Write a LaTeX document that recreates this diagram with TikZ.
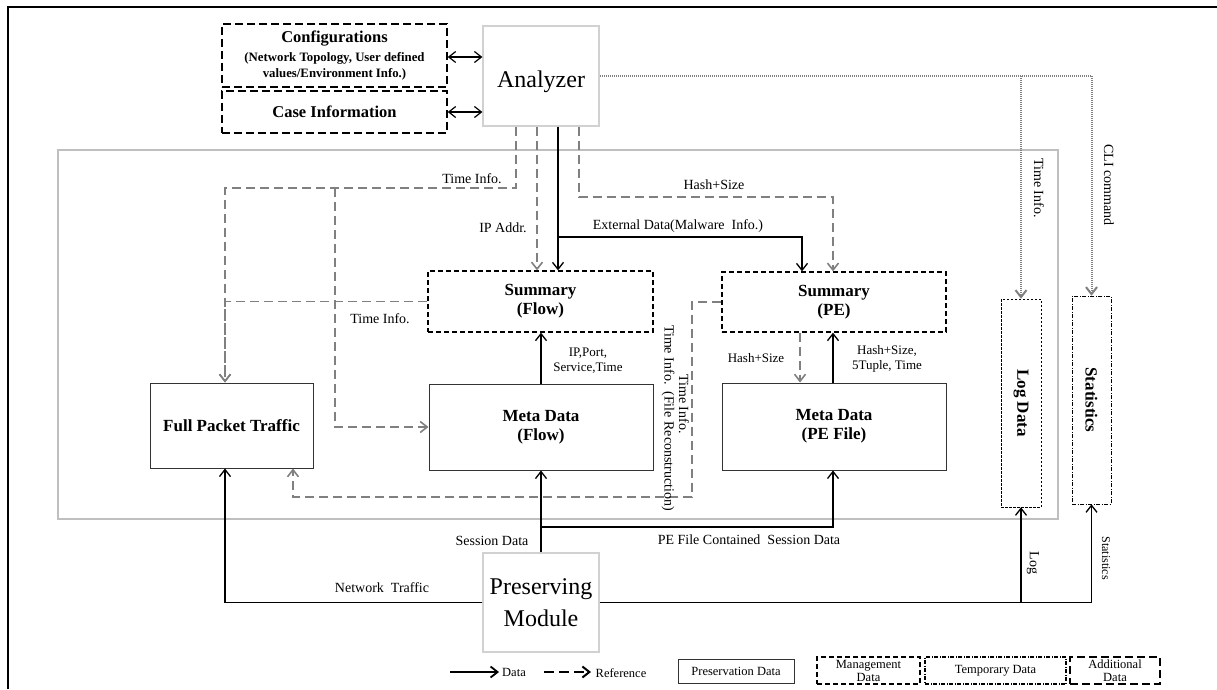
\documentclass[tikz,border=0pt]{standalone}
\usepackage{fontspec}
\setmainfont{Liberation Serif}
\usetikzlibrary{arrows.meta}
\begin{document}
\begin{tikzpicture}[x=1pt,y=-1pt,
  tipv/.style={-{Straight Barb[length=7pt,width=11pt]}},
  bothv/.style={{Straight Barb[length=7pt,width=11pt]}-{Straight Barb[length=7pt,width=11pt]}},
  box/.style={draw=black!80, line width=1pt, inner sep=0pt, align=center,
    font=\fontsize{17}{19}\selectfont\bfseries},
  mgmt/.style={box, draw=black, line width=1.3pt, dash pattern=on 5pt off 3pt},
  addl/.style={box, draw=black, line width=1.5pt, dash pattern=on 8pt off 4pt},
  tmpd/.style={box, draw=black, line width=0.6pt, dash pattern=on 2.5pt off 1.5pt},
  tmpdd/.style={box, draw=black, line width=0.6pt, dash pattern=on 4pt off 1.5pt on 1pt off 1.5pt},
  module/.style={draw=black!18, line width=1.2pt, inner sep=0pt, align=center,
    font=\fontsize{24}{32}\selectfont},
  data/.style={draw=black, line width=1.3pt, tipv},
  ref/.style={draw=black!50, line width=1.6pt, dash pattern=on 9pt off 5pt, tipv},
  ctl/.style={draw=black!50, line width=2pt, dash pattern=on 1.2pt off 0.8pt, tipv},
  lbl/.style={font=\fontsize{14}{15.5}\selectfont, inner sep=1pt, align=center},
  lgd/.style={font=\fontsize{12.5}{13}\selectfont, inner sep=0pt, align=center}
]
\useasboundingbox (0,0) rectangle (1217,689);
% outer frame
\draw[line width=2pt] (8,689) -- (8,7) -- (1217,7);
% container
\node[draw=black!25, line width=1.5pt, minimum width=1000pt, minimum height=369pt, inner sep=0pt] (cont) at (558,334.5) {};
% top nodes
\node[module, minimum width=116pt, minimum height=100pt, text height=24pt, text depth=2pt] (ana) at (541,76) {Analyzer};
\node[addl, minimum width=225pt, minimum height=63pt] (cfg) at (334.5,55.5)
  {{\fontsize{16.5}{18}\selectfont Configurations}\\[0pt]
   {\fontsize{12.8}{14}\selectfont (Network Topology, User defined}\\[-3pt]
   {\fontsize{12.8}{14}\selectfont values/Environment Info.)}};
\node[addl, minimum width=225pt, minimum height=42pt, font=\fontsize{16.5}{18}\selectfont\bfseries] (case) at (334.5,112) {Case Information};
% inner nodes
\node[mgmt, minimum width=225pt, minimum height=61pt] (sumf) at (540.5,301.5) {Summary\\(Flow)};
\node[mgmt, minimum width=224pt, minimum height=60pt] (sump) at (834,302) {Summary\\(PE)};
\node[box, minimum width=224pt, minimum height=86pt] (metf) at (541,427) {Meta Data\\(Flow)};
\node[box, minimum width=224pt, minimum height=87pt] (metp) at (834,426.5) {Meta Data\\(PE File)};
\node[box, minimum width=163pt, minimum height=85pt] (fpt) at (231.5,425.5) {Full Packet Traffic};
\node[tmpd, minimum width=40pt, minimum height=208pt] (logd) at (1021,403) {};
\node[rotate=-90, font=\fontsize{17}{19}\selectfont\bfseries] (logdt) at (logd.center) {Log Data};
\node[tmpdd, minimum width=39pt, minimum height=208pt] (stat) at (1091.5,400) {};
\node[rotate=-90, font=\fontsize{17}{19}\selectfont\bfseries] (statt) at (stat.center) {Statistics};
\node[module, minimum width=116pt, minimum height=99pt] (pres) at (541,602.5) {Preserving\\Module};
% helper coordinates
\coordinate (tiL) at (225,188);
\coordinate (tiM) at (335,188);
\coordinate (extB) at (558,237);
\coordinate (hsR) at (833,197);
\coordinate (frR) at (692,497);
\coordinate (frL) at (293,497);
\coordinate (sesB) at (541,527);
% config <-> analyzer
\draw[line width=1.2pt, bothv] (cfg.east |- 0,57) -- (ana.west |- 0,57);
\draw[line width=1.2pt, bothv] (case.east) -- (case.east -| ana.west);
% analyzer outputs
\draw[ref] ([xshift=-25pt]ana.south) |- (tiL) -- (tiL |- fpt.north);
\draw[ref] (tiM) |- (metf.west);
\draw[ref] (sumf.west) -| (tiL |- fpt.north);
\draw[ref] ([xshift=-4pt]ana.south) -- ([xshift=-4pt]ana.south |- sumf.north);
\draw[data] ([xshift=17pt]ana.south) -- ([xshift=17pt]ana.south |- sumf.north);
\draw[data] (extB) -| ([xshift=-32pt]sump.north);
\draw[ref] ([xshift=38pt]ana.south) |- (hsR) -- (hsR |- sump.north);
% inner links
\draw[data] (metf.north) -- (metf.north |- sumf.south);
\draw[ref] ([xshift=-34pt]sump.south) -- ([xshift=-34pt]sump.south |- metp.north);
\draw[data] ([xshift=-1pt]metp.north) -- ([xshift=-1pt]metp.north |- sump.south);
\draw[ref] (sump.west) -| (frR) -- (frL) -- (frL |- fpt.south);
% dotted control lines
\draw[ctl] (ana.east) -| (stat.north);
\draw[ctl] (ana.east -| logd.north) -- (logd.north);
% preserving module outputs
\draw[data] (pres.west) -| (tiL |- fpt.south);
\draw[data] (pres.north) -- (metf.south);
\draw[data] (sesB) -| ([xshift=-1pt]metp.south);
\draw[data] (pres.east) -| (stat.south);
\draw[data] (pres.east -| logd.south) -- (logd.south);
% labels
\node[lbl] (l1) at (472,179) {Time Info.};
\node[lbl] (l2) at (380,319) {Time Info.};
\node[lbl] (l3) at (503,228) {IP Addr.};
\node[lbl] (l4) at (678,226) {External Data(Malware\ \ Info.)};
\node[lbl] (l5) at (714,185) {Hash+Size};
\node[lbl, font=\fontsize{13}{15}\selectfont] (l6) at (588,361) {IP,Port,\\Service,Time};
\node[lbl, font=\fontsize{13}{15}\selectfont] (l7) at (756,358) {Hash+Size};
\node[lbl, font=\fontsize{13}{15}\selectfont] (l8) at (887,359) {Hash+Size,\\5Tuple, Time};
\node[lbl, rotate=-90] (l9) at (668,418) {Time Info.\ \ (File Reconstruction)};
\node[lbl, rotate=-90] (l10) at (684,404) {Time Info.};
\node[lbl, rotate=-90] (l11) at (1039,188) {Time Info.};
\node[lbl, rotate=-90] (l12) at (1109,185) {CLI command};
\node[lbl] (l13) at (382,588) {Network\ \ Traffic};
\node[lbl] (l14) at (492,541) {Session Data};
\node[lbl] (l15) at (749,540) {PE File Contained\ \ Session Data};
\node[lbl, rotate=-90] (l16) at (1033,563) {Log};
\node[lbl, rotate=-90, font=\fontsize{12}{13}\selectfont] (l17) at (1106,558) {Statistics};
% legend
\coordinate (lgA1) at (450,672);
\coordinate (lgA2) at (499,672);
\coordinate (lgB1) at (544,672);
\coordinate (lgB2) at (591,672);
\draw[data, line width=1.8pt] (lgA1) -- (lgA2);
\node[lgd] (lgDt) at (514,672) {Data};
\draw[draw=black, line width=2pt, dash pattern=on 10pt off 5pt, tipv] (lgB1) -- (lgB2);
\node[lgd] (lgRt) at (621,673) {Reference};
\node[box, line width=0.8pt, font=\fontsize{12.5}{13}\selectfont, minimum width=116pt, minimum height=24pt] (lgP) at (736,671) {Preservation Data};
\node[mgmt, line width=1.2pt, font=\fontsize{12.5}{13}\selectfont, minimum width=103pt, minimum height=27pt] (lgM) at (868.5,670.5) {Management\\Data};
\node[tmpdd, line width=1.2pt, font=\fontsize{12.5}{13}\selectfont, minimum width=141pt, minimum height=27pt] (lgT) at (995.5,670.5) {Temporary Data};
\node[addl, line width=1.3pt, font=\fontsize{12.5}{13}\selectfont, minimum width=90pt, minimum height=27pt] (lgA) at (1115,670.5) {Additional\\Data};
\end{tikzpicture}
\end{document}
